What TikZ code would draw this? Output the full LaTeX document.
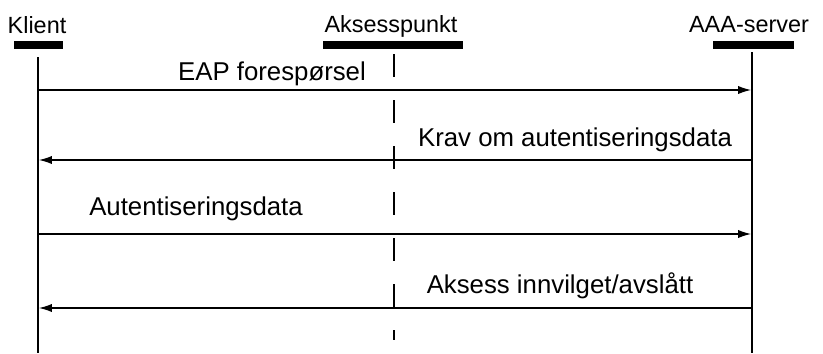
\documentclass[tikz,border=0pt]{standalone}
\usepackage{fontspec}
\setmainfont{Liberation Sans}
\usetikzlibrary{arrows.meta,positioning}

\begin{document}
\begin{tikzpicture}[x=0.03cm,y=-0.03cm,>={Latex[length=11pt,width=7pt]},
 actor/.style={font=\fontsize{20}{24}\selectfont,anchor=base,inner sep=0pt},
 bar/.style={fill=black,minimum height=0.24cm,inner sep=0pt,anchor=north},
 life/.style={line width=1.6pt},
 msg/.style={->,line width=1pt},
 msgtext/.style={font=\fontsize{22}{26}\selectfont,anchor=base,inner sep=0pt}]
\useasboundingbox (0,0) rectangle (823,353);
% participants
\node[bar,minimum width=1.47cm] (klientbar) at (38.5,41) {};
\node[bar,minimum width=4.2cm] (apbar) at (393,41) {};
\node[bar,minimum width=2.43cm] (aaabar) at (753.5,41) {};
\node[actor] (klient) at (37,33) {Klient};
\node[actor] (ap) at (391,32) {Aksesspunkt};
\node[actor] (aaa) at (749,32) {AAA-server};
% lifelines
\coordinate (klienttop) at (38,57);
\coordinate (klientbot) at (38,353);
\coordinate (aptop) at (394,54);
\coordinate (apbot) at (394,340);
\coordinate (aaatop) at (752,52);
\coordinate (aaabot) at (752,353);
\draw[life] (klienttop) -- (klientbot);
\draw[life,dash pattern=on 0.69cm off 0.69cm] (aptop) -- (apbot);
\draw[life] (aaatop) -- (aaabot);
% messages
\foreach \i/\y in {1/90,2/160,3/234,4/308}{
 \coordinate (k\i) at (39,\y);
 \coordinate (s\i) at (751,\y);
}
\draw[msg] (k1) -- (s1);
\draw[msg] (s2) -- (k2);
\draw[msg] (k3) -- (s3);
\draw[msg] (s4) -- (k4);
\node[msgtext] (eap) at (272,80) {EAP forespørsel};
\node[msgtext] (krav) at (575,146) {Krav om autentiseringsdata};
\node[msgtext] (autdata) at (196,215) {Autentiseringsdata};
\node[msgtext] (aksess) at (560,293) {Aksess innvilget/avslått};
\end{tikzpicture}
\end{document}
